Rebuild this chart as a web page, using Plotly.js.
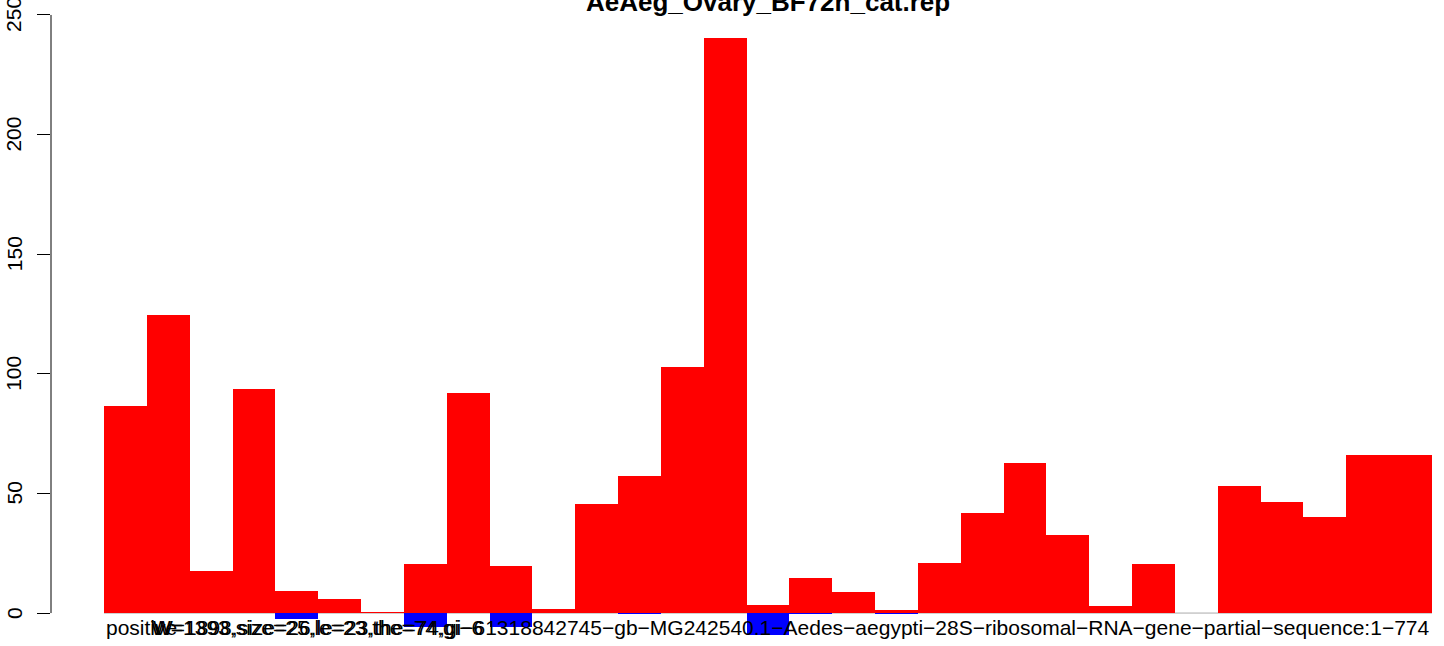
<!DOCTYPE html>
<html>
<head>
<meta charset="utf-8">
<script src="https://cdn.plot.ly/plotly-3.0.1.min.js"></script>
<style>html,body{margin:0;padding:0;background:#fff;}#chart{width:1444px;height:646px;}</style>
</head>
<body>
<div id="chart"></div>
<script>
// bar slots (31 bars, left to right)
const positions = [0,1,2,3,4,5,6,7,8,9,10,11,12,13,14,15,16,17,18,19,20,21,22,23,24,25,26,27,28,29,30];
const positiveValues = [86.4,124.4,17.5,93.5,9.2,5.8,0.6,20.4,91.8,19.6,1.7,45.5,57.2,102.7,240.4,3.3,14.6,8.8,1.2,20.9,41.7,62.6,32.6,2.9,20.4,0,53,46.3,40,66,66];
const negativeValues = [0,0,0,0,-2.5,0,0,-5.8,0,-6,0,0,-0.4,0,0,-9,-0.4,0,-0.4,0,0,0,0,0,0,0,0,0,0,0,0];
const yTicks = [0,50,100,150,200,250];
const titleText = "AeAeg_Ovary_BF72h_cat.rep";
const labelPositive = "positive";
const labelLong = "W=1898,size=26,le=23,the=74,gi\u221261318842745\u2212gb\u2212MG242540.1\u2212Aedes\u2212aegypti\u221228S\u2212ribosomal\u2212RNA\u2212gene\u2212partial\u2212sequence:1\u2212774";
const labelOverlap = "W=1393,size=25,le=23,the=74,gi\u22126";

const H = 646, W = 1444, L = 51;
const font = "Liberation Sans, Arial, Helvetica, sans-serif";
const py = p => 1 - p / H;
const px = p => (p - L) / (W - L);

const traces = [
  {type:'bar', x: positions, y: positiveValues, width:1, marker:{color:'#FF0000', line:{width:0}}, hoverinfo:'skip'},
  {type:'bar', x: positions, y: negativeValues, width:1, marker:{color:'#0000FF', line:{width:0}}, hoverinfo:'skip'}
];

const tickAnns = yTicks.map(v => ({
  text:String(v), xref:'paper', yref:'y', x:px(14), y:v, xanchor:'center', yanchor:'middle',
  textangle:-90, showarrow:false, font:{family:font, size:21, color:'#000'}
}));

const layout = {
  width:W, height:H,
  margin:{l:L, r:0, t:0, b:0, pad:0},
  paper_bgcolor:'#fff', plot_bgcolor:'#fff',
  showlegend:false,
  barmode:'relative', bargap:0,
  font:{family:font, size:21, color:'#000'},
  xaxis:{range:[-1.737, 30.78], showticklabels:false, showgrid:false, zeroline:false, showline:false, ticks:''},
  yaxis:{range:[-13.77, 256.26], tickvals:yTicks, showticklabels:false,
         ticks:'outside', ticklen:13, tickwidth:1, tickcolor:'#000', showgrid:false, zeroline:false, showline:false},
  shapes:[
    {type:'line', xref:'paper', yref:'y', x0:0, x1:0, y0:0, y1:250, line:{color:'#000', width:1}},
    {type:'line', xref:'x', yref:'y', x0:-0.5, x1:30.5, y0:0, y1:0, line:{color:'#aaaaaa', width:1}, layer:'below'}
  ],
  annotations:[
    {text:'<b>'+titleText+'</b>', xref:'x', yref:'paper', x:15, y:py(2), xanchor:'center', yanchor:'middle', showarrow:false,
     font:{family:font, size:26, color:'#000'}},
    {text:labelPositive, xref:'x', yref:'paper', x:-0.5, y:py(627), xanchor:'left', yanchor:'middle', showarrow:false},
    {text:labelOverlap, xref:'x', yref:'paper', x:0.55, y:py(627), xanchor:'left', yanchor:'middle', showarrow:false},
    {text:labelLong, xref:'x', yref:'paper', x:30.5, y:py(627), xanchor:'right', yanchor:'middle', showarrow:false}
  ].concat(tickAnns)
};

Plotly.newPlot('chart', traces, layout, {displayModeBar:false, staticPlot:true});
</script>
</body>
</html>
